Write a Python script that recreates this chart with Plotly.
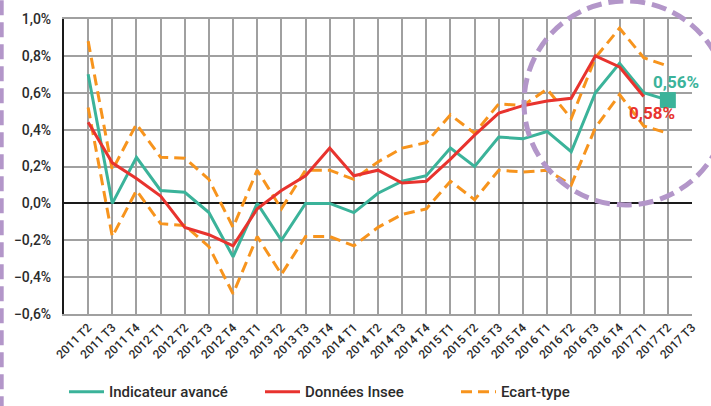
import plotly.graph_objects as go

# ---- data ----
categories = ["2011 T2", "2011 T3", "2011 T4",
              "2012 T1", "2012 T2", "2012 T3", "2012 T4",
              "2013 T1", "2013 T2", "2013 T3", "2013 T4",
              "2014 T1", "2014 T2", "2014 T3", "2014 T4",
              "2015 T1", "2015 T2", "2015 T3", "2015 T4",
              "2016 T1", "2016 T2", "2016 T3", "2016 T4",
              "2017 T1", "2017 T2", "2017 T3"]

indicateur = [0.70, 0.00, 0.25,
              0.07, 0.06, -0.05, -0.29,
              0.00, -0.20, 0.00, 0.00,
              -0.05, 0.055, 0.12, 0.15,
              0.30, 0.20, 0.36, 0.35,
              0.39, 0.28, 0.60, 0.76,
              0.60, 0.56]

insee = [0.44, 0.22, 0.135,
         0.04, -0.13, -0.17, -0.23,
         -0.03, 0.07, 0.15, 0.30,
         0.15, 0.18, 0.11, 0.12,
         0.24, 0.37, 0.49, 0.53,
         0.555, 0.57, 0.80, 0.74,
         0.58]

ecart_haut = [0.88, 0.18, 0.43,
              0.25, 0.245, 0.13, -0.13,
              0.18, -0.03, 0.18, 0.18,
              0.13, 0.225, 0.30, 0.33,
              0.48, 0.38, 0.54, 0.53,
              0.62, 0.46, 0.79, 0.95,
              0.79, 0.745]

ecart_bas = [0.52, -0.18, 0.07,
             -0.11, -0.12, -0.235, -0.49,
             -0.18, -0.385, -0.18, -0.18,
             -0.23, -0.13, -0.06, -0.03,
             0.12, 0.02, 0.18, 0.17,
             0.18, 0.10, 0.41, 0.59,
             0.42, 0.38]

label_indicateur = "0,56%"
label_insee = "0,58%"

# ---- styles ----
GREEN = "#3bb39a"
RED = "#e8332e"
ORANGE = "#f7941d"
PURPLE = "#b396c9"
TEXT = "#2b2b2b"
GRID = "#a0a0a0"
FONT = "Roboto, 'DejaVu Sans', sans-serif"

fig = go.Figure()

fig.add_trace(go.Scatter(
    x=categories[:len(ecart_haut)], y=ecart_haut, mode="lines",
    name="Ecart-type", legendgroup="ecart", legendrank=3,
    line=dict(color=ORANGE, width=3, dash="11px,6px")))
fig.add_trace(go.Scatter(
    x=categories[:len(ecart_bas)], y=ecart_bas, mode="lines",
    name="Ecart-type", legendgroup="ecart", showlegend=False,
    line=dict(color=ORANGE, width=3, dash="11px,6px")))
fig.add_trace(go.Scatter(
    x=categories[:len(indicateur)], y=indicateur, mode="lines",
    name="Indicateur avancé", legendrank=1,
    line=dict(color=GREEN, width=3)))
fig.add_trace(go.Scatter(
    x=categories[:len(insee)], y=insee, mode="lines",
    name="Données Insee", legendrank=2,
    line=dict(color=RED, width=3)))
# last point of the indicator, highlighted with a square
fig.add_trace(go.Scatter(
    x=[categories[len(indicateur) - 1]], y=[indicateur[-1]], mode="markers",
    showlegend=False, hoverinfo="skip",
    marker=dict(symbol="square", size=16, color=GREEN)))

fig.add_annotation(x=categories[len(indicateur) - 1], y=indicateur[-1],
                   text=label_indicateur, showarrow=False,
                   xanchor="center", yanchor="bottom", yshift=6, xshift=8,
                   font=dict(family=FONT, size=17, color=GREEN, weight="bold"))
fig.add_annotation(x=categories[len(insee) - 1], y=insee[-1],
                   text=label_insee, showarrow=False,
                   xanchor="center", yanchor="top", yshift=-5, xshift=8,
                   font=dict(family=FONT, size=17, color=RED, weight="bold"))

# zoom circle (decoration)
fig.add_shape(type="circle", xref="paper", yref="paper",
              x0=0.7325, x1=1.057, y0=0.3695, y1=1.061,
              line=dict(color=PURPLE, width=5, dash="15px,7px"),
              layer="above")
# left page border (decoration)
fig.add_shape(type="line", xref="paper", yref="paper",
              x0=-0.0992, x1=-0.0992, y0=-0.33, y1=1.07,
              line=dict(color=PURPLE, width=4, dash="15px,7px"))

fig.update_layout(
    width=711, height=406,
    margin=dict(l=64, r=19, t=19, b=92, autoexpand=False),
    paper_bgcolor="white", plot_bgcolor="white",
    separators=", ",
    font=dict(family=FONT, color=TEXT, size=13),
    showlegend=True,
    legend=dict(orientation="h", x=0.0, xanchor="left",
                y=-0.264, yanchor="middle",
                font=dict(family=FONT, size=15, color=TEXT, weight=500),
                bgcolor="rgba(0,0,0,0)", itemwidth=35,
                entrywidth=146, entrywidthmode="pixels"),
    xaxis=dict(type="category", categoryorder="array", categoryarray=categories,
               range=[-1, len(categories) - 1], automargin=False,
               showgrid=True, gridcolor=GRID, gridwidth=1.5,
               showline=True, linecolor=GRID, linewidth=1.5, mirror=True,
               ticks="", tickangle=-45,
               tickfont=dict(family=FONT, size=12, color=TEXT, weight=500),
               zeroline=False),
    yaxis=dict(range=[-0.6, 1.0], dtick=0.2, tick0=0, automargin=False,
               tickformat=".1f", ticksuffix="%",
               showgrid=True, gridcolor=GRID, gridwidth=1.5,
               zeroline=True, zerolinecolor="#1a1a1a", zerolinewidth=2,
               showline=True, linecolor="#1a1a1a", linewidth=2,
               ticks="", ticklabelstandoff=8,
               tickfont=dict(family=FONT, size=14, color=TEXT, weight=500)),
)

fig.write_html("out.html",
               config={"displayModeBar": False},
               post_script="document.body.style.margin='0';"
                           "document.body.style.overflow='hidden';")
